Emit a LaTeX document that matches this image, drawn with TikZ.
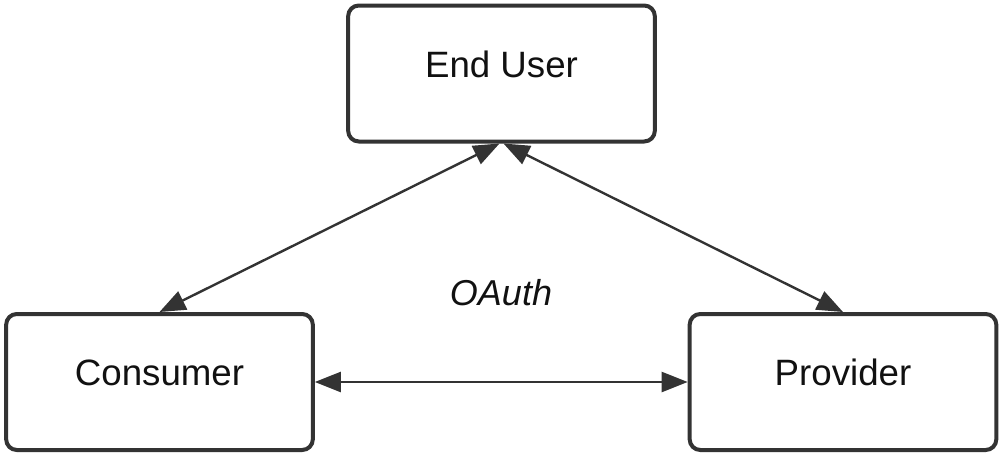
\documentclass[tikz,border=0pt]{standalone}
\usepackage{fontspec}
\setmainfont{Liberation Sans}
\usetikzlibrary{arrows.meta}
\definecolor{edge}{HTML}{333333}
\definecolor{ink}{HTML}{111111}
\begin{document}
\begin{tikzpicture}[x=0.75pt,y=-0.75pt,
  box/.style={draw=edge, line width=3pt, rounded corners=8pt, fill=white,
    minimum width=230pt, minimum height=102pt, inner sep=0pt,
    text=ink, font=\fontsize{27.5}{33}\selectfont,
    text height=0.73em, text depth=0.2em},
  link/.style={draw=edge, line width=1.8pt,
    {Triangle[length=19.5pt,width=15pt]}-{Triangle[length=19.5pt,width=15pt]}},
  lbl/.style={text=ink, font=\fontsize{27}{32}\selectfont\itshape, inner sep=0pt}]
\useasboundingbox (0,0) rectangle (1004,457);
\node[box] (eu) at (501.5,73.5) {End User};
\node[box] (con) at (159.5,382) {Consumer};
\node[box] (prov) at (843,382) {Provider};
\node[lbl, anchor=base] (oauth) at (501,305) {OAuth};
\draw[link] (con.north) -- ([xshift=-1.5pt]eu.south);
\draw[link] ([xshift=1.5pt]eu.south) -- (prov.north);
\draw[link] (con.east) -- (prov.west);
\end{tikzpicture}
\end{document}
